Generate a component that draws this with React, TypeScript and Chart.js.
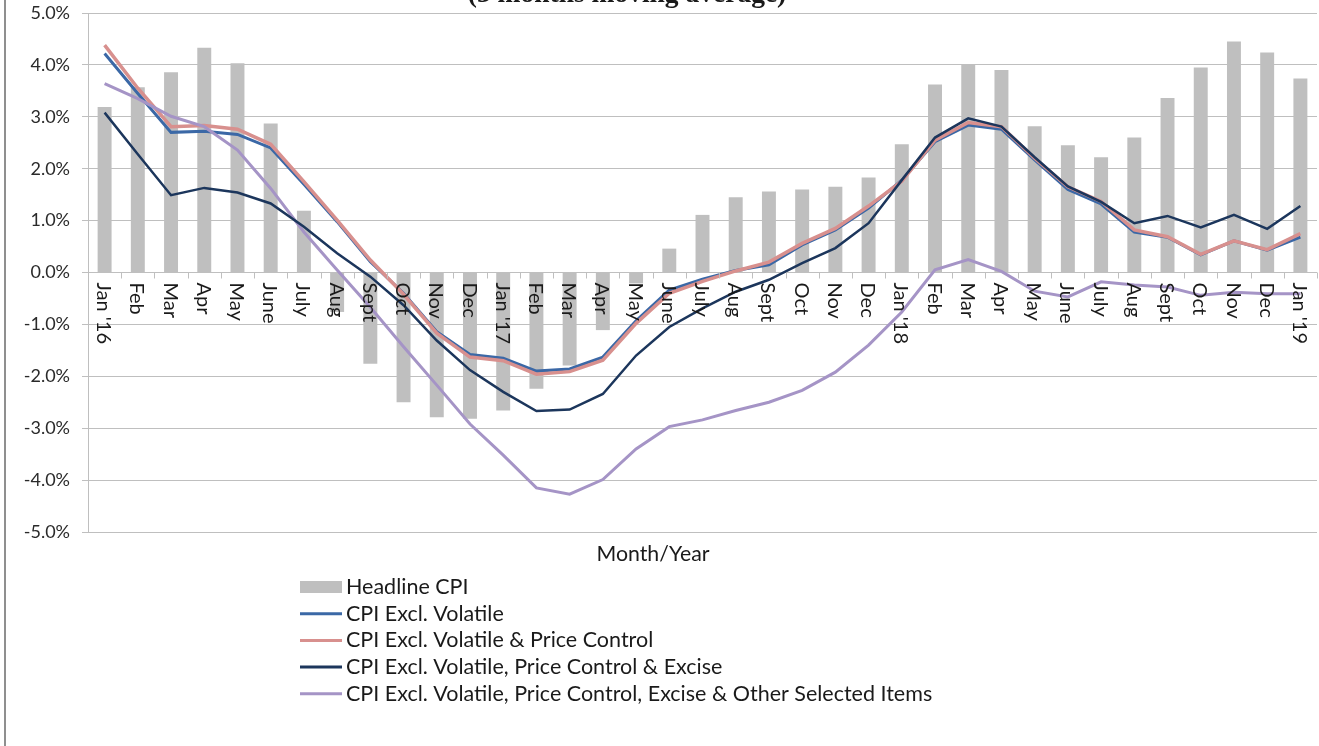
import React, { useEffect, useRef } from "react";
import { Chart, registerables } from "chart.js";

Chart.register(...registerables);

const monthLabels: string[] = [
  "Jan '16", "Feb", "Mar", "Apr", "May", "June", "July", "Aug", "Sept", "Oct", "Nov", "Dec",
  "Jan '17", "Feb", "Mar", "Apr", "May", "June", "July", "Aug", "Sept", "Oct", "Nov", "Dec",
  "Jan '18", "Feb", "Mar", "Apr", "May", "June", "July", "Aug", "Sept", "Oct", "Nov", "Dec",
  "Jan '19",
];

const headlineCPI: number[] = [
  3.19, 3.57, 3.86, 4.33, 4.03, 2.87, 1.19, -0.76, -1.76, -2.50, -2.79, -2.82,
  -2.66, -2.24, -1.79, -1.11, -0.21, 0.46, 1.11, 1.45, 1.56, 1.60, 1.65, 1.83,
  2.47, 3.62, 4.00, 3.90, 2.82, 2.45, 2.22, 2.60, 3.36, 3.95, 4.45, 4.24,
  3.74,
];

const exclVolatile: number[] = [
  4.22, 3.45, 2.70, 2.72, 2.66, 2.40, 1.70, 0.98, 0.21, -0.40, -1.14, -1.58,
  -1.65, -1.90, -1.86, -1.63, -0.93, -0.34, -0.13, 0.04, 0.15, 0.53, 0.82, 1.24,
  1.78, 2.52, 2.84, 2.76, 2.17, 1.60, 1.32, 0.78, 0.68, 0.34, 0.61, 0.43,
  0.68,
];

const exclPriceControl: number[] = [
  4.38, 3.55, 2.81, 2.83, 2.76, 2.47, 1.75, 1.01, 0.24, -0.42, -1.17, -1.63,
  -1.70, -1.96, -1.91, -1.69, -0.98, -0.40, -0.17, 0.03, 0.20, 0.56, 0.85, 1.28,
  1.76, 2.55, 2.89, 2.81, 2.20, 1.65, 1.37, 0.82, 0.69, 0.35, 0.61, 0.44,
  0.75,
];

const exclExcise: number[] = [
  3.08, 2.28, 1.49, 1.63, 1.54, 1.33, 0.88, 0.37, -0.08, -0.63, -1.31, -1.88,
  -2.30, -2.67, -2.64, -2.34, -1.60, -1.05, -0.69, -0.37, -0.14, 0.18, 0.47, 0.95,
  1.78, 2.60, 2.97, 2.81, 2.22, 1.66, 1.36, 0.95, 1.09, 0.87, 1.11, 0.84,
  1.28,
];

const exclOtherSelected: number[] = [
  3.64, 3.35, 3.01, 2.81, 2.36, 1.62, 0.78, 0.05, -0.67, -1.43, -2.17, -2.92,
  -3.52, -4.15, -4.27, -3.99, -3.40, -2.97, -2.84, -2.66, -2.50, -2.27, -1.92, -1.40,
  -0.76, 0.05, 0.25, 0.02, -0.36, -0.47, -0.18, -0.24, -0.28, -0.44, -0.38, -0.41,
  -0.41,
];

const seriesNames: string[] = [
  "Headline CPI",
  "CPI Excl. Volatile",
  "CPI Excl. Volatile & Price Control",
  "CPI Excl. Volatile, Price Control & Excise",
  "CPI Excl. Volatile, Price Control, Excise & Other Selected Items",
];

const seriesColors: string[] = ["#bfbfbf", "#3b68a6", "#d8908e", "#1c365c", "#a594c6"];
const lineWidths: number[] = [0, 3, 3.5, 2.5, 3];

const chartTitle = "(3 months moving average)";
const xAxisTitle = "Month/Year";
const yTicks: number[] = [-5, -4, -3, -2, -1, 0, 1, 2, 3, 4, 5];

const FONT = "Lato";

const decorPlugin = {
  id: "decor",
  afterDatasetsDraw(chart: any) {
    const { ctx } = chart;
    const x = chart.scales.x;
    const y = chart.scales.y;
    const y0 = y.getPixelForValue(0);
    const step = x.getPixelForValue(1) - x.getPixelForValue(0);
    ctx.save();
    ctx.strokeStyle = "#bfbfbf";
    ctx.lineWidth = 1;
    for (let i = 0; i <= monthLabels.length; i++) {
      const px = Math.round(x.getPixelForValue(0) - step / 2 + i * step) + 0.5;
      ctx.beginPath();
      ctx.moveTo(px, y0);
      ctx.lineTo(px, y0 + 6);
      ctx.stroke();
    }
    ctx.fillStyle = "#1a1a1a";
    ctx.font = `20px ${FONT}`;
    ctx.textAlign = "left";
    ctx.textBaseline = "middle";
    monthLabels.forEach((lab, i) => {
      ctx.save();
      ctx.translate(x.getPixelForValue(i) - 1, y0 + 10);
      ctx.rotate(Math.PI / 2);
      ctx.fillText(lab, 0, 0);
      ctx.restore();
    });
    ctx.restore();
  },
  afterDraw(chart: any) {
    const { ctx, chartArea } = chart;
    ctx.save();
    // frame left edge
    ctx.strokeStyle = "#8f8f8f";
    ctx.lineWidth = 2;
    ctx.beginPath();
    ctx.moveTo(5, 0);
    ctx.lineTo(5, chart.height);
    ctx.stroke();
    // clipped title
    ctx.fillStyle = "#1a1a1a";
    ctx.font = `bold 27.5px "Liberation Serif"`;
    ctx.textAlign = "center";
    ctx.textBaseline = "alphabetic";
    ctx.fillText(chartTitle, 627, 1.5);
    // x axis title
    ctx.font = `21.3px ${FONT}`;
    ctx.textBaseline = "middle";
    ctx.fillText(xAxisTitle, 653, chartArea.bottom + 22);
    // legend
    const lx = 300;
    const ly = chartArea.bottom + 55;
    const rowH = 26.7;
    ctx.textAlign = "left";
    seriesNames.forEach((name, i) => {
      const cy = ly + i * rowH;
      if (i === 0) {
        ctx.fillStyle = seriesColors[0];
        ctx.fillRect(lx, cy - 6, 42, 12);
      } else {
        ctx.strokeStyle = seriesColors[i];
        ctx.lineWidth = 3;
        ctx.beginPath();
        ctx.moveTo(lx, cy);
        ctx.lineTo(lx + 42, cy);
        ctx.stroke();
      }
      ctx.fillStyle = "#1a1a1a";
      ctx.font = `21.5px ${FONT}`;
      ctx.fillText(name, lx + 46, cy);
    });
    ctx.restore();
  },
};

export default function App() {
  const canvasRef = useRef<HTMLCanvasElement | null>(null);

  useEffect(() => {
    document.body.style.margin = "0";
    const canvas = canvasRef.current;
    if (!canvas) return;
    const lineSeries = [exclVolatile, exclPriceControl, exclExcise, exclOtherSelected];
    const drawOrder = [3, 2, 0, 1];
    const chart = new Chart(canvas, {
      type: "bar",
      data: {
        labels: monthLabels,
        datasets: [
          {
            type: "bar",
            label: seriesNames[0],
            data: headlineCPI,
            backgroundColor: seriesColors[0],
            categoryPercentage: 1,
            barPercentage: 0.42,
            order: 10,
          } as any,
          ...lineSeries.map((d, i) => ({
            type: "line",
            label: seriesNames[i + 1],
            data: d,
            borderColor: seriesColors[i + 1],
            backgroundColor: seriesColors[i + 1],
            borderWidth: lineWidths[i + 1],
            pointRadius: 0,
            tension: 0,
            fill: false,
            order: drawOrder[i],
          })),
        ],
      },
      options: {
        responsive: false,
        animation: false,
        devicePixelRatio: 1,
        events: [],
        layout: { padding: { top: 13, bottom: 214, left: 0, right: 2 } },
        plugins: {
          legend: { display: false },
          tooltip: { enabled: false },
          title: { display: false },
        },
        scales: {
          x: { display: false, offset: true },
          y: {
            min: -5,
            max: 5,
            afterBuildTicks: (s: any) => {
              s.ticks = yTicks.map((v) => ({ value: v }));
            },
            afterFit: (s: any) => {
              s.width = 88;
              s.paddingTop = 0;
              s.paddingBottom = 0;
            },
            ticks: {
              callback: (v: any) => Number(v).toFixed(1) + "%",
              font: { family: FONT, size: 18 },
              color: "#2a2a2a",
              padding: 12,
            },
            grid: { color: "#bfbfbf", lineWidth: 1, tickLength: 6 },
            border: { color: "#bfbfbf" },
          },
        },
      } as any,
      plugins: [decorPlugin],
    });
    return () => chart.destroy();
  }, []);

  return (
    <div style={{ width: 1319, height: 746, position: "relative", background: "#fff" }}>
      <canvas ref={canvasRef} width={1319} height={746} style={{ display: "block" }} />
    </div>
  );
}
